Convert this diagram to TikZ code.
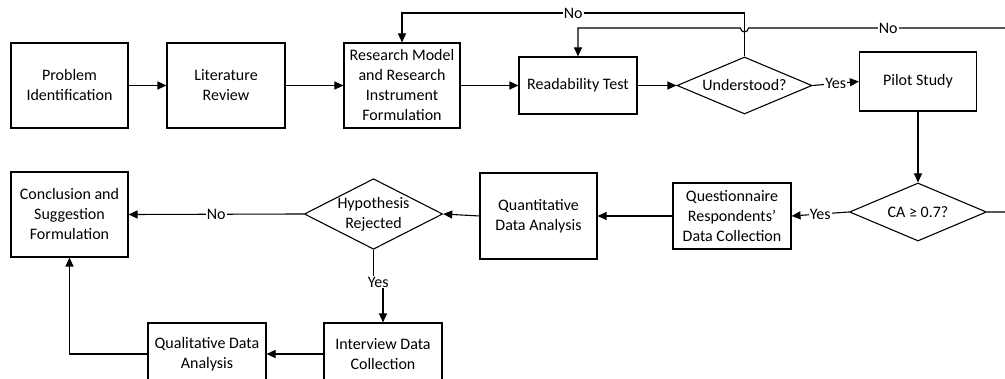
\documentclass[tikz,border=0pt]{standalone}
\usepackage{fontspec}
\setmainfont{Carlito}
\usetikzlibrary{shapes.geometric,arrows.meta}
\begin{document}
\begin{tikzpicture}[x=1pt,y=-1pt,
  every node/.style={font=\fontsize{16}{20}\selectfont, text=black},
  box/.style={draw, line width=1.1pt, align=center, inner sep=0pt},
  dia/.style={draw, diamond, line width=1.1pt, align=center, inner sep=0pt},
  arr/.style={line width=1.1pt, -{Triangle[length=9pt,width=8pt]}},
  ln/.style={line width=1.1pt},
  lab/.style={fill=white, inner sep=1pt}]
\useasboundingbox (0,0) rectangle (1005,379);
\node[box, minimum width=117pt, minimum height=85pt] (prob) at (69.5,85.5) {Problem\\Identification};
\node[box, minimum width=118pt, minimum height=85pt] (lit) at (226,85.5) {Literature\\Review};
\node[box, minimum width=116pt, minimum height=85pt] (rm) at (402,85.5) {Research Model\\and Research\\Instrument\\Formulation};
\node[box, minimum width=118pt, minimum height=57pt] (read) at (578,85.5) {Readability Test};
\node[dia, aspect=2.37, minimum width=135pt, minimum height=57pt] (und) at (744.5,85.5) {Understood?};
\node[box, minimum width=117pt, minimum height=59pt] (pilot) at (918,81.5) {Pilot Study};
\node[dia, aspect=2.36, minimum width=137pt, minimum height=58pt] (ca) at (918,212) {CA \char"2265\ 0.7?};
\node[box, minimum width=118pt, minimum height=66pt] (quest) at (732,216) {Questionnaire\\Respondents'\\Data Collection};
\node[box, minimum width=117pt, minimum height=86pt] (quant) at (538.5,216) {Quantitative\\Data Analysis};
\node[dia, aspect=1.96, minimum width=137pt, minimum height=70pt] (hyp) at (373.5,214) {Hypothesis\\Rejected};
\node[box, minimum width=117pt, minimum height=85pt] (concl) at (69.5,214.5) {Conclusion and\\Suggestion\\Formulation};
\node[box, minimum width=118pt, minimum height=62pt] (int) at (383,354) {Interview Data\\Collection};
\node[box, minimum width=118pt, minimum height=62pt] (qual) at (207,354) {Qualitative Data\\Analysis};

\draw[arr] (prob) -- (lit);
\draw[arr] (lit) -- (rm);
\draw[arr] (rm) -- (read);
\draw[arr] (read) -- (und);
\draw[arr] (und.east) -- node[lab]{Yes} (pilot.west);
\draw[arr] (pilot.south) -- (ca.north);
\draw[arr] (ca.west) -- node[lab]{Yes} (quest.east);
\draw[arr] (quest.west) -- (quant.east);
\draw[arr] (quant.west) -- (hyp.east);
\draw[arr] (hyp.west) -- node[lab, pos=0.5]{No} (concl.east);
\draw[arr] (hyp.south) -- (hyp.south |- 0,282) -- (int.north |- 0,282) node[lab, pos=0.5]{Yes} -- (int.north);
\draw[arr] (int.west) -- (qual.east);
\draw[arr] (qual.west) -| (concl.south);
% No loop 1
\draw[arr] (und.north) -- (und.north |- 0,13) -- node[lab]{No} (rm.north |- 0,13) -- (rm.north);
% No loop 2
\coordinate (rc) at (1012,28);
\draw[arr] (ca.east) -- (ca.east -| rc) -- (rc) -- node[lab, pos=0.47]{No} ([xshift=4pt]und.north |- rc) arc[start angle=0, end angle=-180, radius=4pt] -- (read.north |- rc) -- (read.north);
\end{tikzpicture}
\end{document}
